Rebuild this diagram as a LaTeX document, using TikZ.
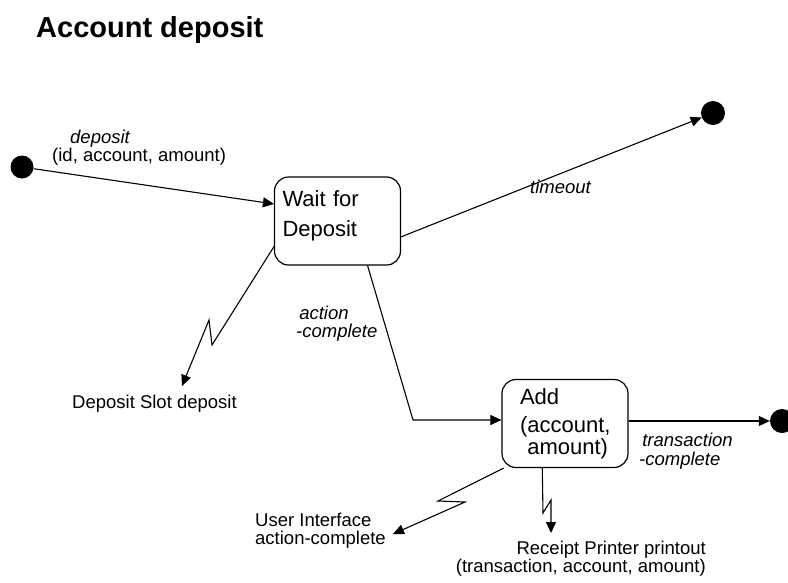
\documentclass[tikz,border=0pt]{standalone}
\usepackage{fontspec}
\setmainfont{Liberation Sans}
\usetikzlibrary{arrows.meta}

\begin{document}
\begin{tikzpicture}[
  x=1pt,
  y=-1pt,
  >={Triangle[length=11pt,width=10pt]},
  every node/.style={inner sep=0pt, font=\fontsize{18.5}{18.5}\selectfont},
  heading/.style={font=\fontsize{29}{30}\selectfont\bfseries},
  state/.style={
    draw,
    line width=1.2pt,
    rounded corners=14pt,
    align=left,
    minimum width=126pt,
    minimum height=88pt,
    font=\fontsize{22}{30}\selectfont
  },
  dot/.style={circle, fill=black, minimum size=23pt},
  trigger/.style={align=left, font=\fontsize{18.5}{18.5}\selectfont\itshape},
  target/.style={align=left},
  arrow/.style={->, line width=1.1pt},
  flash/.style={->, line width=1.1pt, line join=miter}
]
  \useasboundingbox (0,0) rectangle (788,582);

  \node[heading, anchor=base west] (title) at (36,37) {Account deposit};

  \node[dot] (start) at (22,167) {};
  \node[dot, minimum size=24pt] (endtimeout) at (713,113) {};
  \node[dot, minimum size=24pt] (enddone) at (782,421) {};

  \node[state, text width=110pt] (wait) at (337.5,221)
    {Wait for\\Deposit\rule[-14pt]{0pt}{14pt}};
  \node[state, text width=90pt, font=\fontsize{22}{22}\selectfont] (add) at (565,423.5)
    {Add\\[6pt](account,\\\phantom{(}amount)};

  \node[target, anchor=north west] (depin) at (52,129.5)
    {\hspace*{18pt}\textit{deposit}\\(id, account, amount)};
  \node[trigger, anchor=base west] (timeout) at (530,193) {timeout};
  \node[trigger, anchor=north west] (actdone) at (296,305.5) {\,action\\-complete};
  \node[trigger, anchor=north west] (transdone) at (639,433) {\,transaction\\-complete};

  \node[target, anchor=base west] (slot) at (72,408) {Deposit Slot deposit};
  \node[target, anchor=north west] (ui) at (255,512.5) {User Interface\\action-complete};
  \node[target, align=right, anchor=north east] (printer) at (706,540.5)
    {Receipt Printer printout\\(transaction, account, amount)};

  \coordinate (slotzig) at (212,345);
  \coordinate (slotzag) at (209,320);
  \coordinate (slottip) at (182,386);
  \coordinate (bend) at (413,420);
  \coordinate (uizig) at (438,501);
  \coordinate (uizag) at (465,502);
  \coordinate (uitip) at (393,534);
  \coordinate (printzig) at (543,513);
  \coordinate (printzag) at (551,500);
  \coordinate (printtip) at (551,533);

  \draw[arrow] (start) -- (wait.165);
  \draw[arrow] (wait.-14) -- (endtimeout);
  \draw[arrow] (wait.-56) -- (bend) -- (bend -| add.west);
  \draw[arrow] (add.east |- enddone) -- (enddone);

  \draw[flash] (wait.202) -- (slotzig) -- (slotzag) -- (slottip);
  \draw[flash] (add.216) -- (uizig) -- (uizag) -- (uitip);
  \draw[flash] (add.243) -- (printzig) -- (printzag) -- (printtip);
\end{tikzpicture}
\end{document}
